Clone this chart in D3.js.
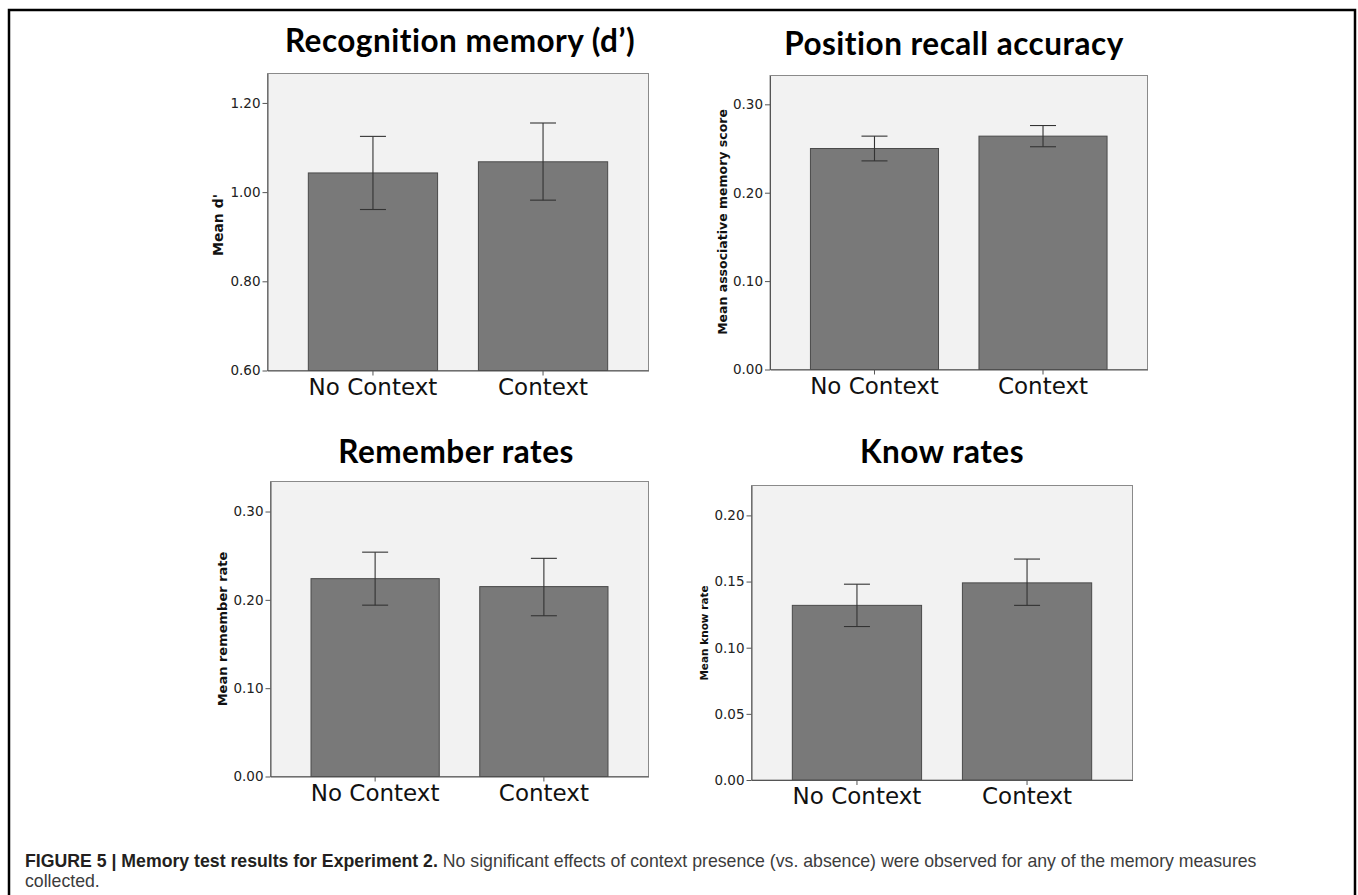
<!DOCTYPE html>
<html>
<head>
<meta charset="utf-8">
<script src="https://d3js.org/d3.v7.min.js"></script>
<style>
  body { margin: 0; background: #fff; }
  svg { display: block; }
</style>
</head>
<body>
<div id="fig"></div>
<script>
// data
var categories = ["No Context", "Context"];

var recogMean  = [1.043, 1.068];
var recogLower = [0.961, 0.982];
var recogUpper = [1.125, 1.155];

var posMean  = [0.250, 0.264];
var posLower = [0.236, 0.252];
var posUpper = [0.264, 0.276];

var rememberMean  = [0.224, 0.215];
var rememberLower = [0.194, 0.182];
var rememberUpper = [0.254, 0.247];

var knowMean  = [0.132, 0.149];
var knowLower = [0.116, 0.132];
var knowUpper = [0.148, 0.167];

var recogTicks    = [0.60, 0.80, 1.00, 1.20];
var posTicks      = [0.00, 0.10, 0.20, 0.30];
var rememberTicks = [0.00, 0.10, 0.20, 0.30];
var knowTicks     = [0.00, 0.05, 0.10, 0.15, 0.20];

var titles = ["Recognition memory (d\u2019)", "Position recall accuracy", "Remember rates", "Know rates"];
var yLabels = ["Mean d'", "Mean associative memory score", "Mean remember rate", "Mean know rate"];

var W = 1358, H = 895;

var svg = d3.select("#fig")
    .append("svg")
    .attr("width", W)
    .attr("height", H);

// figure frame (bottom edge runs off the page)
svg.append("path")
    .attr("d", "M9,905 L9,10 L1355,10 L1355,905")
    .attr("fill", "none")
    .attr("stroke", "#000")
    .attr("stroke-width", 2.5);

// panel layout
var panels = [
    { mean: recogMean, lo: recogLower, hi: recogUpper, ticks: recogTicks, dom: [0.6, 1.266],
      x0: 267.5, x1: 648.5, y0: 73.5, y1: 370.5, tx: 460, ty: 52, lx: 218, ly: 225, lsize: 14 },
    { mean: posMean, lo: posLower, hi: posUpper, ticks: posTicks, dom: [0, 0.3326],
      x0: 770, x1: 1147.5, y0: 75.5, y1: 369.5, tx: 954, ty: 55, lx: 722, ly: 222, lsize: 12.5 },
    { mean: rememberMean, lo: rememberLower, hi: rememberUpper, ticks: rememberTicks, dom: [0, 0.334],
      x0: 270.5, x1: 648.5, y0: 481.5, y1: 776.5, tx: 456, ty: 463, lx: 222, ly: 629, lsize: 13 },
    { mean: knowMean, lo: knowLower, hi: knowUpper, ticks: knowTicks, dom: [0, 0.2226],
      x0: 751.5, x1: 1132.5, y0: 485.5, y1: 780, tx: 942, ty: 463, lx: 704, ly: 633, lsize: 10.5 }
];

panels.forEach(function (p, i) {
    draw(p, i);
});

function draw(p, i) {
    var g = svg.append("g");

    var x = d3.scaleBand()
        .domain(categories)
        .range([p.x0, p.x1])
        .paddingInner(0.24)
        .paddingOuter(0.24);

    var y = d3.scaleLinear()
        .domain(p.dom)
        .range([p.y1, p.y0]);

    // plot background
    g.append("rect")
        .attr("x", p.x0)
        .attr("y", p.y0)
        .attr("width", p.x1 - p.x0)
        .attr("height", p.y1 - p.y0)
        .attr("fill", "#f2f2f2")
        .attr("stroke", "#8a8a8a")
        .attr("stroke-width", 1);

    // bars
    g.selectAll(".bar")
        .data(p.mean)
        .enter()
        .append("rect")
        .attr("x", function (d, j) { return x(categories[j]); })
        .attr("y", function (d) { return y(d); })
        .attr("width", x.bandwidth())
        .attr("height", function (d) { return p.y1 - y(d); })
        .attr("fill", "#797979")
        .attr("stroke", "#4a4a4a")
        .attr("stroke-width", 1);

    // error bars
    var cap = 13;
    p.mean.forEach(function (d, j) {
        var cx = x(categories[j]) + x.bandwidth() / 2;
        var eb = g.append("g")
            .attr("stroke", "#333")
            .attr("stroke-width", 1.1)
            .attr("fill", "none");
        eb.append("line")
            .attr("x1", cx).attr("x2", cx)
            .attr("y1", y(p.lo[j])).attr("y2", y(p.hi[j]));
        eb.append("line")
            .attr("x1", cx - cap).attr("x2", cx + cap)
            .attr("y1", y(p.hi[j])).attr("y2", y(p.hi[j]));
        eb.append("line")
            .attr("x1", cx - cap).attr("x2", cx + cap)
            .attr("y1", y(p.lo[j])).attr("y2", y(p.lo[j]));
    });

    // y axis
    var yAxis = g.append("g")
        .attr("transform", "translate(" + p.x0 + ",0)")
        .call(d3.axisLeft(y)
            .tickValues(p.ticks)
            .tickFormat(d3.format(".2f"))
            .tickSize(5)
            .tickPadding(2)
            .tickSizeOuter(0));
    yAxis.select(".domain").attr("stroke", "#555");
    yAxis.selectAll(".tick line").attr("stroke", "#555");
    yAxis.selectAll(".tick text")
        .attr("font-family", "DejaVu Sans, sans-serif")
        .attr("font-size", 13.5)
        .attr("fill", "#222");

    // x axis
    var xAxis = g.append("g")
        .attr("transform", "translate(0," + p.y1 + ")")
        .call(d3.axisBottom(x)
            .tickSize(5)
            .tickPadding(3)
            .tickSizeOuter(0));
    xAxis.select(".domain").attr("stroke", "#555");
    xAxis.selectAll(".tick line").attr("stroke", "#555");
    xAxis.selectAll(".tick text")
        .attr("font-family", "DejaVu Sans, sans-serif")
        .attr("font-size", 23)
        .attr("fill", "#111");

    // title
    g.append("text")
        .attr("x", p.tx)
        .attr("y", p.ty)
        .attr("text-anchor", "middle")
        .attr("font-family", "Lato, sans-serif")
        .attr("font-weight", "bold")
        .attr("font-size", 31.5)
        .attr("letter-spacing", 0.5)
        .attr("fill", "#000")
        .text(titles[i]);

    // y label
    g.append("text")
        .attr("transform", "translate(" + p.lx + "," + p.ly + ") rotate(-90)")
        .attr("text-anchor", "middle")
        .attr("dominant-baseline", "central")
        .attr("font-family", "DejaVu Sans, sans-serif")
        .attr("font-weight", "bold")
        .attr("font-size", p.lsize)
        .attr("fill", "#111")
        .text(yLabels[i]);
}

// caption
var cap1 = svg.append("text")
    .attr("x", 25)
    .attr("y", 867)
    .attr("font-family", "Liberation Sans, Arial, sans-serif")
    .attr("font-size", 17.7);
cap1.append("tspan")
    .attr("font-weight", "bold")
    .attr("fill", "#231f20")
    .text("FIGURE 5 | Memory test results for Experiment 2.");
cap1.append("tspan")
    .attr("fill", "#3c3c3c")
    .text(" No significant effects of context presence (vs. absence) were observed for any of the memory measures");

svg.append("text")
    .attr("x", 25)
    .attr("y", 887)
    .attr("font-family", "Liberation Sans, Arial, sans-serif")
    .attr("font-size", 17.7)
    .attr("fill", "#3c3c3c")
    .text("collected.");
</script>
</body>
</html>
